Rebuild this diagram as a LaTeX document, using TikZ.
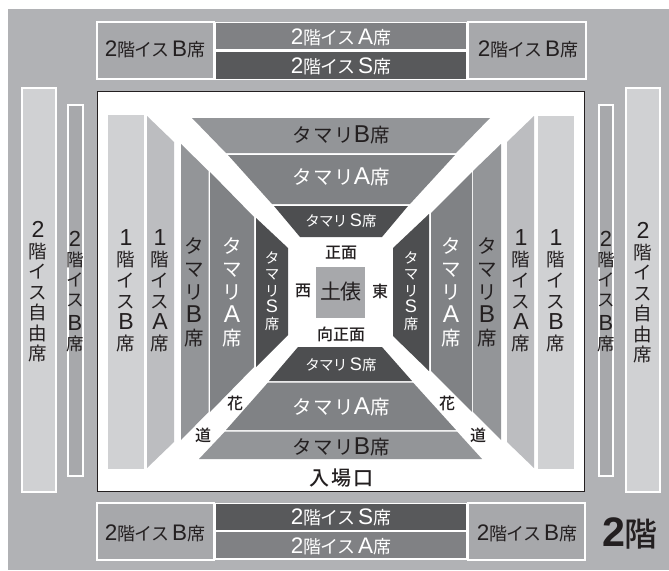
\documentclass[tikz,border=0pt]{standalone}
\usepackage{fontspec}
\setmainfont[LetterSpace=-5]{Noto Sans CJK JP}
\newfontfamily\widefont[LetterSpace=8]{Noto Sans CJK JP}
\newfontfamily\mediumfont{Noto Sans CJK JP Medium}
\newfontfamily\mediumwide[LetterSpace=10]{Noto Sans CJK JP Medium}
\newfontfamily\latinfont[Scale=1.25]{Liberation Sans}
\newcommand{\lat}[1]{{\latinfont #1}}
\definecolor{hallgray}{HTML}{B1B2B5}
\definecolor{seatB}{HTML}{A7A8AB}
\definecolor{seatA}{HTML}{808184}
\definecolor{seatS}{HTML}{58595B}
\definecolor{ikkaiA}{HTML}{BCBDC0}
\definecolor{ikkaiB}{HTML}{D0D1D3}
\definecolor{tamaB}{HTML}{939598}
\definecolor{tamaA}{HTML}{808285}
\definecolor{tamaS}{HTML}{4D4E50}
\definecolor{inkgray}{HTML}{231F20}
\tikzset{
  whitebox/.style={draw=white,line width=2pt},
  tate/.style 2 args={align=center,text=inkgray,inner sep=0pt,font=\fontsize{#1}{#2}\selectfont},
  tatewhite/.style 2 args={tate={#1}{#2},text=white},
  yoko/.style={text=inkgray,inner sep=0pt,font=\fontsize{#1}{#1}\selectfont},
  yokowhite/.style={yoko=#1,text=white},
  yokowide/.style={text=inkgray,inner sep=0pt,font=\widefont\fontsize{#1}{#1}\selectfont},
  yokowidewhite/.style={yokowide=#1,text=white},
  yokomedium/.style={text=inkgray,inner sep=0pt,font=\mediumfont\fontsize{#1}{#1}\selectfont}
}
\begin{document}
\begin{tikzpicture}[x=1pt,y=-1pt]
  \useasboundingbox (0,0) rectangle (669,570);
  \fill[hallgray] (8,9) rectangle (669,570);
  \draw[whitebox,fill=seatB] (97,22) rectangle (214,79);
  \draw[whitebox,fill=seatB] (468,22) rectangle (586,79);
  \fill[white] (214,22) rectangle (468,80);
  \fill[seatA] (216,23) rectangle (466,49);
  \fill[seatS] (216,52) rectangle (466,79);
  \draw[whitebox,fill=seatB] (97,503) rectangle (214,560);
  \draw[whitebox,fill=seatB] (468,503) rectangle (585,560);
  \fill[white] (214,503) rectangle (468,560);
  \fill[seatS] (216,504) rectangle (466,530);
  \fill[seatA] (216,532) rectangle (466,558);
  \draw[whitebox,fill=ikkaiB] (22,88) rectangle (56,492);
  \draw[whitebox,fill=ikkaiB] (626,88) rectangle (660,492);
  \draw[whitebox,fill=seatB] (68,105) rectangle (83,476);
  \draw[whitebox,fill=seatB] (599,105) rectangle (613,476);
  \draw[fill=white,draw=inkgray,line width=0.7pt] (97,91.5) rectangle (584.5,491);
  % left side
  \fill[ikkaiB] (108,115) rectangle (144,469);
  \fill[ikkaiA] (147,116) -- (174,142) -- (174,442) -- (147,468) -- cycle;
  \fill[tamaB] (181,144) -- (208.5,171) -- (208.5,412) -- (181,440) -- cycle;
  \fill[tamaA] (210,172) -- (254,217) -- (254,367) -- (210,412) -- cycle;
  \fill[tamaS] (256,218) -- (288,248) -- (288,335) -- (256,367) -- cycle;
  % right side
  \fill[ikkaiB] (538,116) rectangle (574,469);
  \fill[ikkaiA] (534,116) -- (507,142) -- (507,442) -- (534,468) -- cycle;
  \fill[tamaB] (501,144) -- (473,171) -- (473,412) -- (501,440) -- cycle;
  \fill[tamaA] (472,172) -- (431,213) -- (431,371) -- (472,412) -- cycle;
  \fill[tamaS] (429,214) -- (393,248) -- (393,336) -- (429,371) -- cycle;
  % top side
  \fill[tamaB] (192,118) -- (490,118) -- (456,153) -- (226,153) -- cycle;
  \fill[tamaA] (228,155) -- (455,155) -- (410,204) -- (272,204) -- cycle;
  \fill[tamaS] (274,206) -- (408,206) -- (382,237) -- (300,237) -- cycle;
  % bottom side
  \fill[tamaS] (298,347) -- (382,347) -- (412,381) -- (269,381) -- cycle;
  \fill[tamaA] (268,382.5) -- (413,382.5) -- (456,430) -- (226,430) -- cycle;
  \fill[tamaB] (225,431.5) -- (457,431.5) -- (482,459) -- (199,459) -- cycle;
  \fill[seatB] (316,267) rectangle (365,318);
  % labels
  \node[yoko=18] (topBleft) at (155,49) {\lat{2}階イス \lat{B}席};
  \node[yoko=18] (topBright) at (528,49) {\lat{2}階イス \lat{B}席};
  \node[yokowhite=18] (topA) at (341,37) {\lat{2}階イス \lat{A}席};
  \node[yokowhite=18] (topS) at (341,66) {\lat{2}階イス \lat{S}席};
  \node[yoko=18] (botBleft) at (155,533) {\lat{2}階イス \lat{B}席};
  \node[yoko=18] (botBright) at (527,533) {\lat{2}階イス \lat{B}席};
  \node[yokowhite=18] (botS) at (341,517) {\lat{2}階イス \lat{S}席};
  \node[yokowhite=18] (botA) at (341,546) {\lat{2}階イス \lat{A}席};
  \node[yokomedium=33] (floor) at (630,533) {\lat{\bfseries 2}階};
  \node[tate={18.5}{20.5}] (farleft) at (38,292) {\lat{2}\\階\\イ\\ス\\自\\由\\席};
  \node[tate={18.5}{20.5}] (farright) at (643,293) {\lat{2}\\階\\イ\\ス\\自\\由\\席};
  \node[tate={17.5}{20}] (narrowleft) at (75,292) {\lat{2}\\階\\イ\\ス\\[4pt]\lat{B}\\席};
  \node[tate={17.5}{20}] (narrowright) at (606,292) {\lat{2}\\階\\イ\\ス\\[4pt]\lat{B}\\席};
  \node[tate={18.5}{21}] (ikkaiBleft) at (126,291) {\lat{1}\\階\\イ\\ス\\\lat{B}\\席};
  \node[tate={18.5}{21}] (ikkaiAleft) at (160,291) {\lat{1}\\階\\イ\\ス\\\lat{A}\\席};
  \node[tate={18.5}{21}] (ikkaiAright) at (521,291) {\lat{1}\\階\\イ\\ス\\\lat{A}\\席};
  \node[tate={18.5}{21}] (ikkaiBright) at (556,291) {\lat{1}\\階\\イ\\ス\\\lat{B}\\席};
  \node[tate={19.5}{23}] (tamaBleft) at (194,292) {タ\\マ\\リ\\\lat{B}\\席};
  \node[tatewhite={19.5}{23}] (tamaAleft) at (232,292) {タ\\マ\\リ\\\lat{A}\\席};
  \node[tatewhite={14.5}{16.5}] (tamaSleft) at (272,291) {タ\\マ\\リ\\\lat{S}\\席};
  \node[tate={19.5}{23}] (tamaBright) at (487,292) {タ\\マ\\リ\\\lat{B}\\席};
  \node[tatewhite={19.5}{23}] (tamaAright) at (451,292) {タ\\マ\\リ\\\lat{A}\\席};
  \node[tatewhite={14.5}{16.5}] (tamaSright) at (411,291) {タ\\マ\\リ\\\lat{S}\\席};
  \node[yokowide=19.5] (tamaBtop) at (341,135) {タマリ\lat{B}席};
  \node[yokowidewhite=19.5] (tamaAtop) at (341,177) {タマリ\lat{A}席};
  \node[yokowhite=14.5] (tamaStop) at (341,221) {タマリ \lat{S}席};
  \node[yokowhite=14.5] (tamaSbot) at (341,365) {タマリ \lat{S}席};
  \node[yokowidewhite=19.5] (tamaAbot) at (341,407) {タマリ\lat{A}席};
  \node[yokowide=19.5] (tamaBbot) at (341,447) {タマリ\lat{B}席};
  \node[yokomedium=16] (shomen) at (341,253) {正面};
  \node[yokomedium=16] (mukou) at (341,334) {向正面};
  \node[yoko=21] (dohyo) at (341,292) {土俵};
  \node[yokomedium=16] (nishi) at (303,291) {西};
  \node[yokomedium=16] (higashi) at (380,291) {東};
  \node[yokomedium=16] (hanaleft) at (235,403) {花};
  \node[yokomedium=16] (michileft) at (203,435) {道};
  \node[yokomedium=16] (hanaright) at (447,403) {花};
  \node[yokomedium=16] (michiright) at (478,435) {道};
  \node[text=inkgray,inner sep=0pt,font=\mediumwide\fontsize{20}{20}\selectfont] (entrance) at (341,478) {入場口};
\end{tikzpicture}
\end{document}
